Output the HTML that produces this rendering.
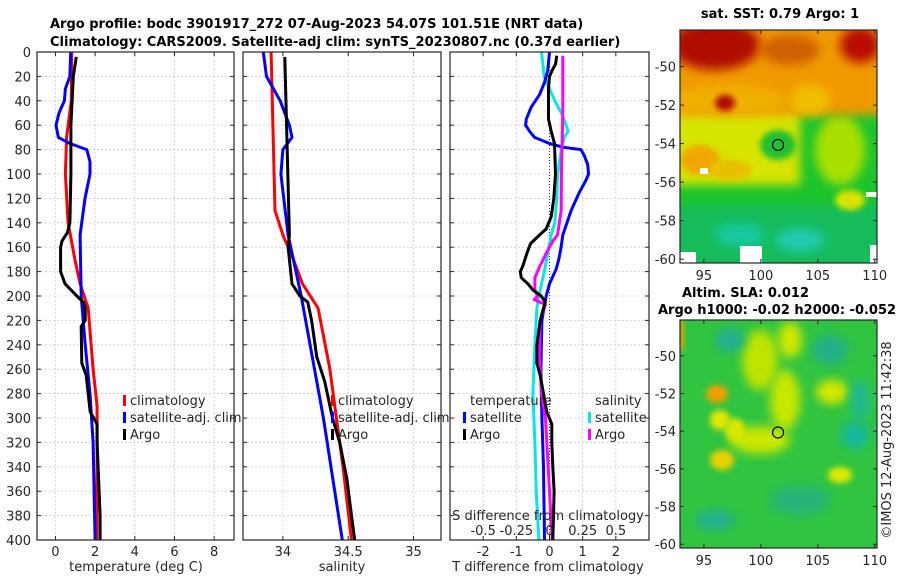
<!DOCTYPE html>
<html><head><meta charset="utf-8"><style>
html,body{margin:0;padding:0;background:#fff;}
svg{display:block;font-family:"DejaVu Sans","Liberation Sans",sans-serif;}
.tk{font-size:13px;fill:#262626;}
.tt{font-size:13px;font-weight:bold;fill:#000;}
</style></head><body>
<svg id="fig" width="900" height="580" viewBox="0 0 900 580" xmlns="http://www.w3.org/2000/svg">
<text class="tt" x="50" y="28">Argo profile: bodc 3901917_272 07-Aug-2023 54.07S 101.51E (NRT data)</text>
<text class="tt" x="50" y="46">Climatology: CARS2009. Satellite-adj clim: synTS_20230807.nc (0.37d earlier)</text>
<g id="panels"></g>
<g id="maps"></g>
<text class="tk" transform="translate(891,440) rotate(-90)" text-anchor="middle">©IMOS 12-Aug-2023 11:42:38</text>
</svg>
<script>
// ---- data ----
const depthTicks=[0,20,40,60,80,100,120,140,160,180,200,220,240,260,280,300,320,340,360,380,400];
const tTicks=[0,2,4,6,8];
const sTicks=[34,34.5,35];
const dTTicks=[-2,-1,0,1,2];
const dSTicks=[-0.5,-0.25,0,0.25,0.5];
const argoTDepth=[4,20,60,100,140,148,155,160,180,190,200,205,210,220,225,255,265,280,295,305,320,360,380,400];
const argoT=[1.05,0.9,0.78,0.78,0.73,0.6,0.33,0.26,0.26,0.48,1.08,1.4,1.5,1.5,1.3,1.33,1.55,1.65,1.75,2.1,2.1,2.2,2.25,2.25];
const climTDepth=[0,40,70,100,140,170,190,210,260,290,340,400];
const climT=[0.82,0.8,0.56,0.5,0.64,0.98,1.24,1.65,1.9,2.1,2.1,2.08];
const satTDepth=[0,20,30,40,50,60,70,75,80,90,100,120,150,200,240,280,320,400];
const satT=[0.77,0.73,0.5,0.45,0.18,0.03,0.15,0.73,1.58,1.74,1.74,1.49,1.24,1.3,1.5,1.74,1.9,2.0];
const argoSDepth=[4,150,160,190,200,205,220,250,270,300,320,350,380,400];
const argoS=[34.015,34.05,34.04,34.07,34.13,34.19,34.22,34.26,34.32,34.38,34.435,34.49,34.525,34.55];
const climSDepth=[0,130,150,170,190,210,260,300,340,400];
const climS=[33.91,33.94,34.0,34.08,34.15,34.27,34.36,34.41,34.46,34.525];
const satSDepth=[0,20,40,60,70,80,100,150,200,300,400];
const satS=[33.85,33.875,33.98,34.05,34.07,34.0,33.985,34.04,34.14,34.31,34.455];
const dTArgoDepth=[3,10,15,20,30,55,65,75,100,120,135,145,150,157,165,175,180,185,190,195,200,205,220,240,255,265,280,295,305,320,340,360,380,400];
const dTArgo=[0.22,0.18,0.08,0,-0.03,-0.03,0.05,0.15,0.18,0.13,0.05,-0.1,-0.3,-0.57,-0.68,-0.8,-0.88,-0.85,-0.65,-0.5,-0.25,-0.13,-0.28,-0.38,-0.38,-0.28,-0.18,-0.08,0.07,0.07,0.1,0.14,0.12,0.1];
const dTSatDepth=[0,15,25,35,45,55,60,65,70,75,78,80,85,92,100,105,115,130,150,160,170,178,190,200,220,260,300,340,400];
const dTSat=[0,-0.05,-0.15,-0.3,-0.55,-0.7,-0.72,-0.6,-0.45,0,0.4,0.95,1.05,1.15,1.18,1.1,0.9,0.65,0.4,0.35,0.28,0.2,0,-0.1,-0.23,-0.26,-0.23,-0.18,-0.15];
const dSSatDepth=[0,10,20,30,40,50,60,65,70,80,100,120,140,150,160,180,200,210,240,280,320,360,400];
const dSSat=[-0.06,-0.05,-0.04,0,0.04,0.09,0.125,0.14,0.11,0.09,0.06,0.055,0.04,0.013,-0.005,-0.04,-0.08,-0.095,-0.11,-0.125,-0.11,-0.1,-0.08];
const dSArgoDepth=[3,50,100,130,150,155,165,175,185,195,200,203,207,220,250,280,300,320,360,400];
const dSArgo=[0.1,0.1,0.09,0.088,0.06,0.025,-0.025,-0.07,-0.11,-0.11,-0.09,-0.115,-0.03,-0.07,-0.075,-0.06,-0.03,-0.02,0,0.02];
const lonTicks=[95,100,105,110];
const latTicks=[-50,-52,-54,-56,-58,-60];
const argoLon=[101.51];
const argoLat=[-54.07];

// ---- helpers ----
const NS="http://www.w3.org/2000/svg";
function mk(tag,attrs,parent){const e=document.createElementNS(NS,tag);for(const k in attrs)e.setAttribute(k,attrs[k]);parent.appendChild(e);return e;}
const Y0=52,Y1=540;
function yD(d){return Y0+(d/400)*(Y1-Y0);}
function lin(d0,d1,r0,r1){return v=>r0+(v-d0)/(d1-d0)*(r1-r0);}
const panelsG=document.getElementById('panels');

function panel(name,x0,x1,dom,xticks){
  const g=mk('g',{},panelsG);
  
  
  const xs=lin(dom[0],dom[1],x0,x1);
  depthTicks.forEach(d=>{const l=mk('line',{x1:x0,x2:x1,y1:yD(d),y2:yD(d),stroke:'#c8cce8','stroke-width':0.8,'stroke-dasharray':'2,2'},g);
    });
  xticks.forEach(v=>{const l=mk('line',{x1:xs(v),x2:xs(v),y1:Y0,y2:Y1,stroke:'#c8cce8','stroke-width':0.8,'stroke-dasharray':'2,2'},g);
    });
  return {g,xs};
}
function frame(p,x0,x1,xticks,labels,showY){
  const g=p.g;
  depthTicks.forEach(d=>{mk('line',{x1:x0,x2:x0+4,y1:yD(d),y2:yD(d),stroke:'#262626'},g);mk('line',{x1:x1-4,x2:x1,y1:yD(d),y2:yD(d),stroke:'#262626'},g);
    if(showY){const t=mk('text',{x:31,y:yD(d)+5,'text-anchor':'end',class:'tk'},g);t.textContent=d;
      }});
  xticks.forEach((v,i)=>{mk('line',{x1:p.xs(v),x2:p.xs(v),y1:Y1,y2:Y1-4,stroke:'#262626'},g);mk('line',{x1:p.xs(v),x2:p.xs(v),y1:Y0,y2:Y0+4,stroke:'#262626'},g);
    const t=mk('text',{x:p.xs(v),y:556,'text-anchor':'middle',class:'tk'},g);t.textContent=labels[i];
    });
  const r=mk('rect',{x:x0,y:Y0,width:x1-x0,height:Y1-Y0,fill:'none',stroke:'#262626','stroke-width':1.2},g);
  
}
function line(p,vals,deps,color,name,sc,w){
  const xs=sc||p.xs;
  const pts=vals.map((v,i)=>xs(v).toFixed(1)+','+yD(deps[i]).toFixed(1)).join(' ');
  const l=mk('polyline',{points:pts,fill:'none',stroke:color,'stroke-width':w||3,'stroke-linejoin':'round'},p.g);
  
  
}
function txt(g,x,y,s,name,anchor){const t=mk('text',{x:x,y:y,class:'tk','text-anchor':anchor||'start'},g);t.textContent=s;
  return t;}
function legendBar(g,x,y,color){const r=mk('rect',{x:x,y:y-11,width:3,height:11,fill:color},g);
  }

// panel 1: temperature
const p1=panel('temperature-panel',37,234,[-0.93,9.0],tTicks);
line(p1,climT,climTDepth,'#ff0000','climatology-temperature-line');
line(p1,satT,satTDepth,'#0000ff','satellite-temperature-line');
line(p1,argoT,argoTDepth,'#000','argo-temperature-line');
frame(p1,37,234,tTicks,tTicks.map(String),true);
txt(p1.g,136,571,'temperature (deg C)','x-axis-title','middle');
[['climatology','#ff0000',407],['satellite-adj. clim','#0000ff',424],['Argo','#000',441]].forEach(a=>{legendBar(p1.g,123,a[2]-1,a[1]);txt(p1.g,130,a[2]-2,a[0],'legend-entry');});

// panel 2: salinity
const p2=panel('salinity-panel',243,441,[33.695,35.21],sTicks);
line(p2,climS,climSDepth,'#ff0000','climatology-salinity-line');
line(p2,satS,satSDepth,'#0000ff','satellite-salinity-line');
line(p2,argoS,argoSDepth,'#000','argo-salinity-line');
frame(p2,243,441,sTicks,['34','34.5','35'],false);
txt(p2.g,342,571,'salinity','x-axis-title','middle');
[['climatology','#ff0000',407],['satellite-adj. clim','#0000ff',424],['Argo','#000',441]].forEach(a=>{legendBar(p2.g,331,a[2]-1,a[1]);txt(p2.g,338,a[2]-2,a[0],'legend-entry');});

// panel 3: differences
const p3=panel('difference-panel',450,649,[-3,3],[-2,-1,1,2]);
const zl=mk('line',{x1:p3.xs(0),x2:p3.xs(0),y1:Y0,y2:Y1,stroke:'#333','stroke-width':1,'stroke-dasharray':'1,2'},p3.g);

const sS=lin(-0.75,0.75,450,649);
line(p3,dSSat,dSSatDepth,'#00e8e8','salinity-satellite-diff-line',sS);
line(p3,dTSat,dTSatDepth,'#0000ff','temperature-satellite-diff-line');
line(p3,dSArgo,dSArgoDepth,'#ff00ff','salinity-argo-diff-line',sS);
line(p3,dTArgo,dTArgoDepth,'#000','temperature-argo-diff-line');
frame(p3,450,649,dTTicks,dTTicks.map(String),false);
txt(p3.g,548,571,'T difference from climatology','x-axis-title','middle');
txt(p3.g,548,520,'S difference from climatology','s-axis-title','middle');
dSTicks.forEach(v=>txt(p3.g,sS(v),535,String(v),'s-tick-label','middle'));
txt(p3.g,470,405,'temperature','legend-title');
txt(p3.g,595,405,'salinity','legend-title');
legendBar(p3.g,463,423,'#0000ff');txt(p3.g,470,422,'satellite','legend-entry');
legendBar(p3.g,463,440,'#000');txt(p3.g,470,439,'Argo','legend-entry');
legendBar(p3.g,588,423,'#00e8e8');txt(p3.g,595,422,'satellite','legend-entry');
legendBar(p3.g,588,440,'#ff00ff');txt(p3.g,595,439,'Argo','legend-entry');

// ---- maps ----
const mapsG=document.getElementById('maps');
const defs=mk('defs',{},mapsG);
const f=mk('filter',{id:'bl',x:'-30%',y:'-30%',width:'160%',height:'160%'},defs);mk('feGaussianBlur',{stdDeviation:5},f);
const f2=mk('filter',{id:'bl2',x:'-30%',y:'-30%',width:'160%',height:'160%'},defs);mk('feGaussianBlur',{stdDeviation:3},f2);
function map(name,y0,y1,blobs,title){
  const g=mk('g',{},mapsG);
  
  
  const X0=680,X1=877;
  const xs=lin(92.9,110.2,X0,X1), ys=lin(-48.1,-60.2,y0,y1);
  const cp=mk('clipPath',{id:'c'+name},defs);mk('rect',{x:X0,y:y0,width:X1-X0,height:y1-y0},cp);
  const inner=mk('g',{'clip-path':'url(#c'+name+')'},g);
  blobs.forEach(b=>{const e=mk(b[0]==='r'?'rect':'ellipse',b[0]==='r'?{x:b[1],y:b[2],width:b[3],height:b[4],fill:b[5]}:{cx:b[1],cy:b[2],rx:b[3],ry:b[4],fill:b[5]},inner);
    if(b[6])e.setAttribute('filter','url(#'+b[6]+')');});
  latTicks.forEach(v=>{mk('line',{x1:X0,x2:X0+4,y1:ys(v),y2:ys(v),stroke:'#262626'},g);mk('line',{x1:X1-4,x2:X1,y1:ys(v),y2:ys(v),stroke:'#262626'},g);
    txt(g,676,ys(v)+5,String(v),'lat-tick-label','end');});
  lonTicks.forEach(v=>{mk('line',{x1:xs(v),x2:xs(v),y1:y1,y2:y1-4,stroke:'#262626'},g);mk('line',{x1:xs(v),x2:xs(v),y1:y0,y2:y0+4,stroke:'#262626'},g);
    txt(g,xs(v),y1+17,String(v),'lon-tick-label','middle');});
  mk('rect',{x:X0,y:y0,width:X1-X0,height:y1-y0,fill:'none',stroke:'#262626','stroke-width':1.2},g);
  argoLon.forEach((lo,i)=>{const c=mk('circle',{cx:xs(lo),cy:ys(argoLat[i]),r:5.5,fill:'none',stroke:'#000','stroke-width':1.2},g);
    });
  title.forEach(t=>{const e=mk('text',{x:t[0],y:t[1],class:'tt','text-anchor':t[2]},g);e.textContent=t[3];
    });
}
map('sst-map',30,263,[
 ['r',670,20,220,260,'#1ec42c'],
 ['r',670,205,220,70,'#12bc5a','bl'],
 ['e',740,235,25,12,'#18c8a0','bl'],['e',800,240,25,12,'#20c8b0','bl'],
 ['r',670,100,130,85,'#d6e400','bl'],
 ['e',840,150,25,35,'#a8e000','bl'],['e',850,200,15,10,'#d8e400','bl2'],
 ['r',670,20,220,95,'#f09a00','bl'],
 ['e',730,100,55,15,'#f0b000','bl'],['e',700,160,20,15,'#f0a800','bl2'],['e',730,170,22,10,'#e8c000','bl2'],
 ['e',715,45,45,25,'#b00800','bl'],['e',725,103,10,8,'#b00800','bl2'],['e',790,50,30,15,'#d06000','bl'],['e',860,45,20,18,'#b81000','bl'],
 ['e',810,100,20,15,'#f0c000','bl'],['e',778,145,18,15,'#20c030','bl2'],
 ['r',700,168,8,6,'#fff'],['r',678,252,18,12,'#fff'],['r',740,246,22,18,'#fff'],['r',866,192,12,5,'#fff'],['r',870,245,10,20,'#fff']
],[[780,18,'middle','sat. SST: 0.79 Argo: 1']]);
map('sla-map',320,548,[
 ['r',670,310,220,250,'#30c440'],
 ['e',760,360,18,30,'#c0e400','bl'],['e',785,400,15,30,'#c8e800','bl'],['e',790,340,12,18,'#d0e800','bl'],
 ['e',760,440,30,14,'#c8e800','bl'],['e',735,430,10,12,'#d8e800','bl2'],['e',720,420,10,10,'#e0e800','bl2'],
 ['e',717,394,11,9,'#f0a000','bl2'],['e',722,460,12,10,'#e8d000','bl2'],
 ['e',832,392,16,12,'#d8e800','bl'],['e',840,475,12,8,'#e0e800','bl2'],
 ['e',855,435,14,14,'#18b8a0','bl'],['e',730,340,15,12,'#20b090','bl'],['e',830,350,18,15,'#20b088','bl'],
 ['e',715,520,20,10,'#20b090','bl'],['e',800,500,30,15,'#28b478','bl'],['e',860,400,10,20,'#22b890','bl'],
 ['r',678,320,6,30,'#e8a000','bl2']
],[[682,297,'start','Altim. SLA: 0.012'],[658,314,'start','Argo h1000: -0.02 h2000: -0.052']]);
</script>
</body></html>
